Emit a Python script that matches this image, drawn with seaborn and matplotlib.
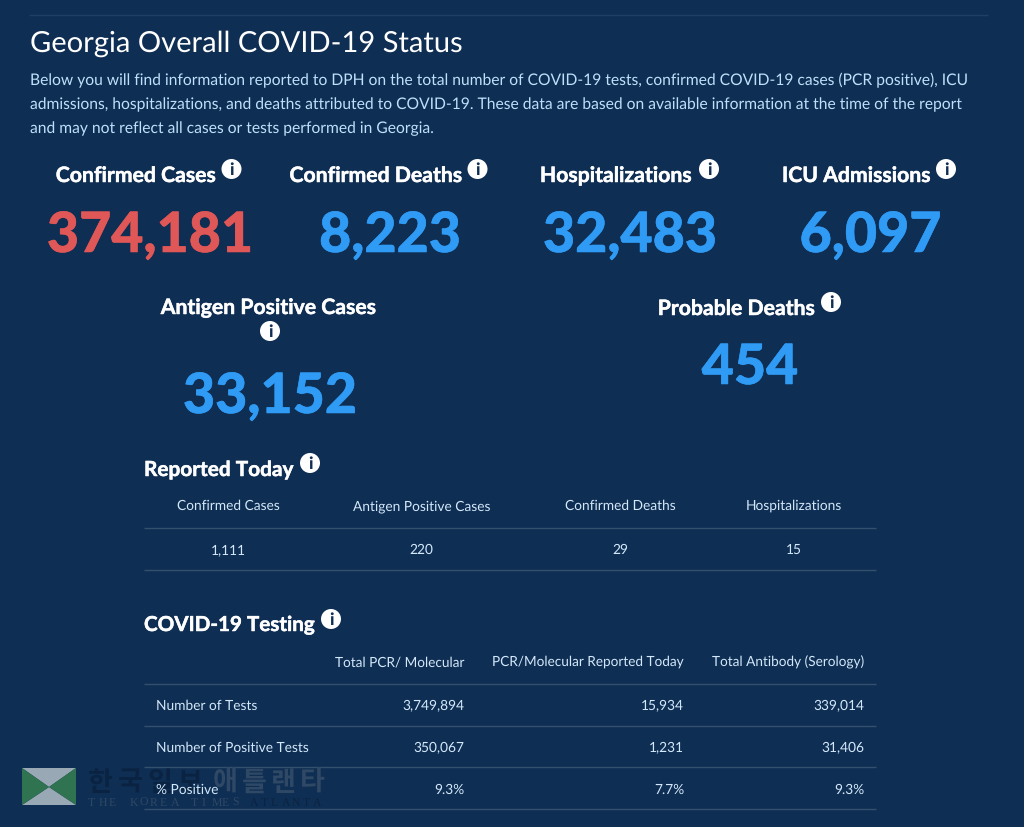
import matplotlib
matplotlib.use("Agg")
import matplotlib.pyplot as plt
import matplotlib.patheffects as pe
import seaborn as sns
from matplotlib.patches import Circle, Polygon

sns.set_theme(style="white")
plt.rcParams['font.family'] = ['Lato', 'Noto Sans CJK KR', 'DejaVu Sans']
plt.rcParams['text.hinting'] = 'no_hinting'

BG = "#0f2e53"
WHITE = "#ffffff"
PALE = "#bfe0fb"
TABLE = "#d3e8fa"
RED = "#e05757"
BLUE = "#2f9bf5"
RULE = "#34506f"

title = "Georgia Overall COVID-19 Status"
intro = [
    "Below you will find information reported to DPH on the total number of COVID-19 tests, confirmed COVID-19 cases (PCR positive), ICU",
    "admissions, hospitalizations, and deaths attributed to COVID-19. These data are based on available information at the time of the report",
    "and may not reflect all cases or tests performed in Georgia.",
]
kpi_labels = ["Confirmed Cases", "Confirmed Deaths", "Hospitalizations", "ICU Admissions"]
kpi_values = ["374,181", "8,223", "32,483", "6,097"]
kpi2_labels = ["Antigen Positive Cases", "Probable Deaths"]
kpi2_values = ["33,152", "454"]
today_cols = ["Confirmed Cases", "Antigen Positive Cases", "Confirmed Deaths", "Hospitalizations"]
today_vals = ["1,111", "220", "29", "15"]
test_cols = ["Total PCR/ Molecular", "PCR/Molecular Reported Today", "Total Antibody (Serology)"]
test_rows = ["Number of Tests", "Number of Positive Tests", "% Positive"]
test_pcr = ["3,749,894", "350,067", "9.3%"]
test_today = ["15,934", "1,231", "7.7%"]
test_antibody = ["339,014", "31,406", "9.3%"]
mark_ko = ["한국일보", "애틀랜타"]
mark_en = ["THE KOREA TIMES", "ATLANTA"]

fig = plt.figure(figsize=(10.24, 8.28), dpi=100, facecolor=BG)
ax = fig.add_axes([0, 0, 1, 1])
ax.set_xlim(0, 1024)
ax.set_ylim(828, 0)
ax.axis("off")


def T(x, y, s, size, color=WHITE, ha="left", weight="normal", stroke=0, **kw):
    t = ax.text(x, y, s, fontsize=size * 0.72, color=color, ha=ha, va="baseline",
                fontweight=weight, zorder=6, **kw)
    if stroke:
        t.set_path_effects([pe.withStroke(linewidth=stroke, foreground=color)])
    return t


def info(x, y, r=10):
    ax.add_patch(Circle((x, y), r, fc=WHITE, ec="none", zorder=3))
    ax.text(x, y + 0.5, "i", fontsize=r * 1.25, color=BG, ha="center", va="center",
            fontweight="black", zorder=4)


def rule(x0, x1, y, color=RULE, lw=1.0):
    ax.plot([x0, x1], [y, y], color=color, lw=lw, solid_capstyle="butt")


def spaced(x, y, s, step, size, color, family=None, weight="normal"):
    for i, ch in enumerate(s):
        kw = {"family": family} if family else {}
        ax.text(x + i * step, y, ch, fontsize=size, color=color, ha="left", va="baseline",
                fontweight=weight, zorder=2, **kw)


rule(29, 988, 15.5, "#1f3f63")
T(30, 52, title, 29.1, WHITE)
for y, line in zip([85, 109, 133], intro):
    T(30, y, line, 15.6, PALE)

for cx, ic, lab, val, col in zip([135.5, 375.5, 615.5, 856], [231.5, 477.5, 709, 946],
                                 kpi_labels, kpi_values, [RED, BLUE, BLUE, BLUE]):
    T(cx, 183, lab, 21.2, WHITE, ha="center", weight="bold", stroke=0.35)
    info(ic, 170)
    T(cx + 14.5, 253, val, 55.5, col, ha="center", weight="black", stroke=0.4)

T(268, 315, kpi2_labels[0], 21.2, WHITE, ha="center", weight="bold", stroke=0.35)
info(270, 332)
T(270, 414, kpi2_values[0], 55.5, BLUE, ha="center", weight="black", stroke=0.4)
T(736, 316, kpi2_labels[1], 21.2, WHITE, ha="center", weight="bold", stroke=0.35)
info(831, 303)
T(750, 385, kpi2_values[1], 55.5, BLUE, ha="center", weight="black", stroke=0.4)

T(144, 477, "Reported Today", 20.8, WHITE, weight="bold", stroke=0.35)
info(310, 464)
for cx, c, v in zip([228.5, 421.5, 620.5, 793.5], today_cols, today_vals):
    T(cx, 510, c, 13.75, TABLE, ha="center")
    T(cx, 554, v, 13.75, TABLE, ha="center")
rule(144, 876, 528.5)
rule(144, 876, 570.5)

T(144, 632, "COVID-19 Testing", 20.6, WHITE, weight="bold", stroke=0.35)
info(331, 620)
for xr, c in zip([464, 684, 864], test_cols):
    T(xr, 666, c, 13.6, TABLE, ha="right")
for y in [684, 726, 768, 810]:
    rule(144, 876, y + 0.5)
for y, r, a, b, c in zip([710, 752, 794], test_rows, test_pcr, test_today, test_antibody):
    T(155.5, y, r, 13.75, TABLE)
    T(464, y, a, 13.75, TABLE, ha="right")
    T(684, y, b, 13.75, TABLE, ha="right")
    T(864, y, c, 13.75, TABLE, ha="right")

# watermark
ax.add_patch(Polygon([(22, 769), (76, 769), (49, 788)], fc="#98a8b4", ec="none", zorder=5))
ax.add_patch(Polygon([(22, 806), (76, 806), (49, 788)], fc="#98a8b4", ec="none", zorder=5))
ax.add_patch(Polygon([(22, 769), (22, 806), (49, 788)], fc="#2f7350", ec="none", zorder=5))
ax.add_patch(Polygon([(76, 769), (76, 806), (49, 788)], fc="#2f7350", ec="none", zorder=5))
spaced(88, 791, mark_ko[0], 30, 19.5, "#0a2342", weight="bold")
spaced(213, 791, mark_ko[1], 29, 19.5, "#2e4865", weight="bold")
spaced(88, 806, mark_en[0], 10.3, 8.5, "#2e4865", family=["Liberation Serif"])
spaced(250, 806, mark_en[1], 10.5, 8.5, "#0a2342", family=["Liberation Serif"])

fig.savefig("out.png", dpi=100, facecolor=BG)
